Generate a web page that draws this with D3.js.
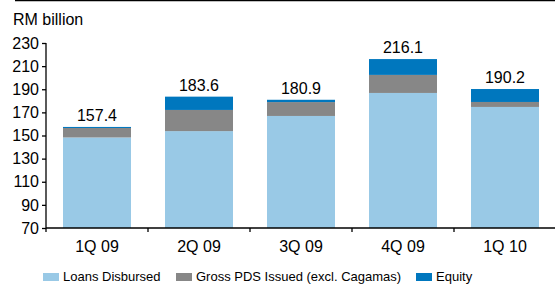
<!DOCTYPE html>
<html>
<head>
<meta charset="utf-8">
<script src="https://cdn.jsdelivr.net/npm/d3@7"></script>
<style>
html,body{margin:0;padding:0;background:#fff;}
svg{display:block;font-family:"Liberation Sans",Arial,sans-serif;}
</style>
</head>
<body>
<svg id="chart" width="555" height="284"></svg>
<script>
const categories = ["1Q 09","2Q 09","3Q 09","4Q 09","1Q 10"];
const loans = [148.3, 153.8, 166.9, 186.8, 174.7];
const pds = [8.2, 18.3, 12.0, 15.6, 4.3];
const equity = [0.9, 11.5, 2.0, 13.7, 11.2];
const totals = ["157.4","183.6","180.9","216.1","190.2"];
const seriesNames = ["Loans Disbursed","Gross PDS Issued (excl. Cagamas)","Equity"];
const colors = ["#99c9e6","#878787","#0077be"];
const yTicks = [70,90,110,130,150,170,190,210,230];

const svg = d3.select("#chart");
const x0 = 46, x1 = 556, yTop = 43, yBot = 228;

const x = d3.scaleBand().domain(categories).range([x0, x1]).paddingInner(1/3).paddingOuter(1/6);
const y = d3.scaleLinear().domain([70, 230]).range([yBot, yTop]);

// top border
svg.append("line").attr("x1",15).attr("x2",555).attr("y1",0.5).attr("y2",0.5)
  .attr("stroke","#000").attr("stroke-width",1.5);

const rows = categories.map((c,i)=>({cat:c, loans:loans[i], pds:pds[i], equity:equity[i]}));
const stack = d3.stack().keys(["loans","pds","equity"]);
const layers = stack(rows);

svg.append("g").selectAll("g").data(layers).join("g")
  .attr("fill",(d,i)=>colors[i])
  .selectAll("rect").data(d=>d).join("rect")
  .attr("x",d=>x(d.data.cat))
  .attr("width",x.bandwidth())
  .attr("y",d=>y(d[1]))
  .attr("height",d=>y(Math.max(d[0],70))-y(d[1]));

// value labels
svg.append("g").selectAll("text").data(categories).join("text")
  .attr("x",d=>x(d)+x.bandwidth()/2)
  .attr("y",(d,i)=>y(loans[i]+pds[i]+equity[i])-6)
  .attr("text-anchor","middle")
  .attr("font-size",16).attr("fill","#000")
  .text((d,i)=>totals[i]);

// y axis
const yAxis = d3.axisLeft(y).tickValues(yTicks).tickSize(4).tickPadding(3);
const gy = svg.append("g").attr("transform",`translate(${x0},0)`).call(yAxis);
gy.select(".domain").attr("stroke","#000").attr("stroke-width",1.3).attr("d",`M0,${yTop}V${yBot}`);
gy.selectAll(".tick line").attr("stroke","#000").attr("stroke-width",1.3);
gy.selectAll("text").attr("font-size",16).attr("font-family","Liberation Sans, Arial, sans-serif").attr("fill","#000");

// x axis
const gx = svg.append("g").attr("transform",`translate(0,${yBot})`);
gx.append("line").attr("x1",x0).attr("x2",x1).attr("stroke","#000").attr("stroke-width",1.3);
const bounds = categories.map(c=>x(c)-x.step()*x.paddingInner()/2).concat([x1]);
gx.selectAll("line.t").data(bounds).join("line").attr("class","t")
  .attr("x1",d=>d).attr("x2",d=>d).attr("y1",0).attr("y2",4).attr("stroke","#000").attr("stroke-width",1.3);
gx.selectAll("text").data(categories).join("text")
  .attr("x",d=>x(d)+x.bandwidth()/2).attr("y",24)
  .attr("text-anchor","middle").attr("font-size",16).attr("fill","#000")
  .text(d=>d);

// title
svg.append("text").attr("x",13).attr("y",25).attr("font-size",16).attr("fill","#000").text("RM billion");

// legend
const legX = [43, 176, 416];
const lg = svg.append("g").selectAll("g").data(seriesNames).join("g")
  .attr("transform",(d,i)=>`translate(${legX[i]},272)`);
lg.append("rect").attr("width",16).attr("height",8).attr("y",1).attr("fill",(d,i)=>colors[i]);
lg.append("text").attr("x",20).attr("y",9).attr("font-size",13).attr("fill","#000").text(d=>d);
</script>
</body>
</html>
